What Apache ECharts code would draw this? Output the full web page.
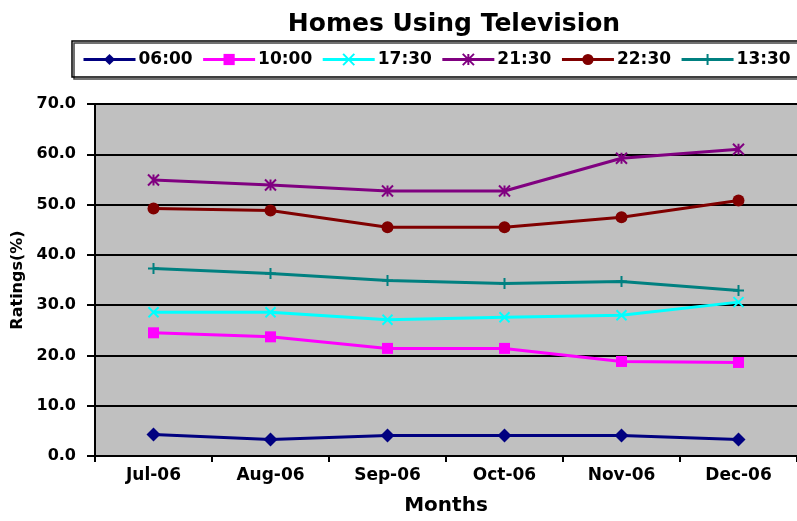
<!DOCTYPE html>
<html>
<head>
<meta charset="utf-8">
<script src="https://cdn.jsdelivr.net/npm/echarts@6/dist/echarts.min.js"></script>
<style>
  html, body { margin: 0; padding: 0; background: #fff; }
  #chart { width: 797px; height: 521px; }
</style>
</head>
<body>
<div id="chart"></div>
<script>
// data
const months = ['Jul-06', 'Aug-06', 'Sep-06', 'Oct-06', 'Nov-06', 'Dec-06'];
const s0600 = [4.3, 3.3, 4.1, 4.1, 4.1, 3.3];
const s1000 = [24.5, 23.7, 21.4, 21.4, 18.8, 18.6];
const s1730 = [28.6, 28.6, 27.1, 27.6, 28.0, 30.6];
const s2130 = [54.9, 53.9, 52.7, 52.7, 59.2, 61.0];
const s2230 = [49.2, 48.8, 45.5, 45.5, 47.5, 50.8];
const s1330 = [37.3, 36.3, 34.9, 34.3, 34.7, 32.9];

const font = 'DejaVu Sans';

// one line series
function line(name, data, color, symbol, size, strokeOnly) {
    return {
        name: name,
        type: 'line',
        data: data,
        symbol: symbol,
        symbolSize: size,
        showAllSymbol: true,
        lineStyle: { color: color, width: 3 },
        itemStyle: strokeOnly
            ? { color: color, borderColor: color, borderWidth: 2 }
            : { color: color },
        emphasis: { disabled: true },
        animation: false
    };
}

const chart = echarts.init(document.getElementById('chart'));

const option = {
    backgroundColor: '#ffffff',
    title: {
        text: 'Homes Using Television',
        left: 449,
        textAlign: 'center',
        top: 7,
        textStyle: { fontFamily: font, fontSize: 25, fontWeight: 'bold', color: '#000' }
    },
    legend: {
        left: 72,
        top: 41,
        width: 760,
        padding: [10, 12, 9, 10],
        itemGap: 9,
        itemWidth: 52,
        itemHeight: 14,
        borderColor: '#000',
        borderWidth: 1.5,
        shadowColor: '#444',
        shadowOffsetX: 2,
        shadowOffsetY: 2,
        lineStyle: { width: 3 },
        textStyle: { fontFamily: font, fontSize: 17, fontWeight: 'bold', color: '#000', padding: [0, 0, 0, -2] }
    },
    grid: {
        show: true,
        left: 95,
        top: 104,
        width: 709,
        height: 357,
        backgroundColor: '#c0c0c0',
        borderWidth: 0
    },
    xAxis: {
        type: 'category',
        data: months,
        boundaryGap: true,
        name: 'Months',
        nameLocation: 'middle',
        nameGap: 40,
        nameTextStyle: { fontFamily: font, fontSize: 20, fontWeight: 'bold', color: '#000' },
        axisLine: { lineStyle: { color: '#000', width: 2 } },
        axisTick: { show: true, length: 6, lineStyle: { color: '#000', width: 2 } },
        axisLabel: { fontFamily: font, fontSize: 17, fontWeight: 'bold', color: '#000', margin: 11 },
        splitLine: { show: false }
    },
    yAxis: {
        type: 'value',
        min: 0,
        max: 70,
        interval: 10,
        name: 'Ratings(%)',
        nameLocation: 'middle',
        nameGap: 65,
        nameTextStyle: { fontFamily: font, fontSize: 16, fontWeight: 'bold', color: '#000' },
        axisLine: { show: true, lineStyle: { color: '#000', width: 2 } },
        axisTick: { show: true, length: 8, lineStyle: { color: '#000', width: 2 } },
        axisLabel: {
            fontFamily: font, fontSize: 16, fontWeight: 'bold', color: '#000', margin: 19,
            formatter: function (v) { return v.toFixed(1); }
        },
        splitLine: { show: true, lineStyle: { color: '#000', width: 2 } }
    },
    series: [
        line('06:00', s0600, '#000080', 'diamond', 14, false),
        line('10:00', s1000, '#ff00ff', 'rect', 11, false),
        line('17:30', s1730, '#00ffff', 'path://M0,0L10,10M10,0L0,10', 10, true),
        line('21:30', s2130, '#800080', 'path://M0,0L10,10M10,0L0,10M5,0L5,10', 11, true),
        line('22:30', s2230, '#800000', 'circle', 12, false),
        line('13:30', s1330, '#008080', 'path://M5,0L5,10M0,5L10,5', 11, true)
    ]
};

chart.setOption(option);
</script>
</body>
</html>
